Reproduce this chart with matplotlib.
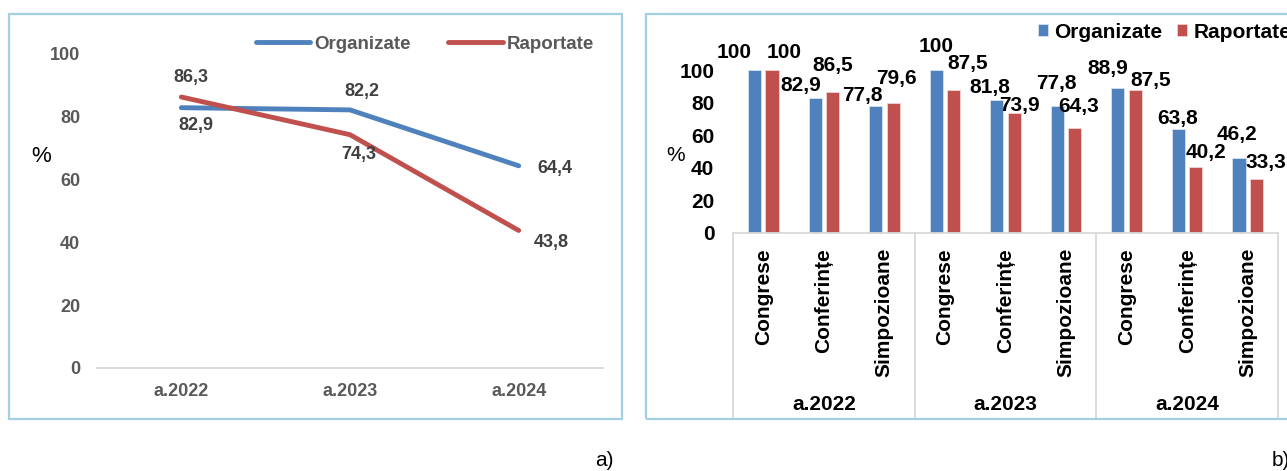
import numpy as np
import matplotlib
matplotlib.use("Agg")
import matplotlib.pyplot as plt
import matplotlib.transforms as mtransforms
from matplotlib.patches import Rectangle

plt.rcParams['font.family'] = ['Liberation Sans', 'DejaVu Sans']

# data
years = ['a.2022', 'a.2023', 'a.2024']
organizate = [82.9, 82.2, 64.4]
raportate = [86.3, 74.3, 43.8]

event_types = ['Congrese', 'Conferințe', 'Simpozioane']
org_bars = [100, 82.9, 77.8, 100, 81.8, 77.8, 88.9, 63.8, 46.2]
rap_bars = [100, 86.5, 79.6, 87.5, 73.9, 64.3, 87.5, 40.2, 33.3]

# label offsets in pixels (dx, dy), only for placement
org_line_off = [(15, -18), (12, 18), (36, -3)]
rap_line_off = [(10, 20), (9, -20), (33, -12)]
org_bar_off = [(-20, 18), (-14, 12), (-13, 11), (0, 23), (-7, 12), (-1, 23), (-10, 20), (-1, 11), (-2, 23)]
rap_bar_off = [(12, 18), (0, 27), (3, 25), (14, 27), (5, 7), (4, 22), (15, 10), (10, 15), (9, 16)]

BLUE = '#4F81BD'
RED = '#C0504D'
BORDER = '#A3D0E1'
GRID = '#D9D9D9'

W, H = 1287, 471
fig = plt.figure(figsize=(W / 100, H / 100), dpi=100)


def fx(px):
    return px / W


def fy(py):
    return 1 - py / H


def fmt(v):
    return f"{v:g}".replace('.', ',')


# panel borders
fig.patches.append(Rectangle((fx(9), fy(419)), fx(622) - fx(9), (419 - 14) / H,
                             transform=fig.transFigure, fill=False, ec=BORDER, lw=1.6))
fig.patches.append(Rectangle((fx(646), fy(419)), fx(1300) - fx(646), (419 - 14) / H,
                             transform=fig.transFigure, fill=False, ec=BORDER, lw=1.6))

# ---------- a) line chart ----------
ax1 = fig.add_axes([fx(97), fy(368), (603 - 97) / W, (368 - 54) / H])
x = np.arange(len(years))
ax1.plot(x, organizate, color=BLUE, lw=3.5, solid_capstyle='round', label='Organizate')
ax1.plot(x, raportate, color=RED, lw=3.5, solid_capstyle='round', label='Raportate')
ax1.set_xlim(-0.5, 2.5)
ax1.set_ylim(0, 100)
ax1.set_yticks(range(0, 101, 20))
ax1.set_xticks(x)
ax1.set_xticklabels(years)
for s in ['top', 'right', 'left']:
    ax1.spines[s].set_visible(False)
ax1.spines['bottom'].set_color(GRID)
ax1.spines['bottom'].set_linewidth(1.3)
ax1.tick_params(axis='y', length=0, pad=12, labelsize=13, labelcolor='#595959')
ax1.tick_params(axis='x', length=0, pad=11, labelsize=13, labelcolor='#595959')
for lab in ax1.get_xticklabels() + ax1.get_yticklabels():
    lab.set_fontweight('bold')

for i, v in enumerate(organizate):
    ax1.annotate(fmt(v), (i, v), xytext=org_line_off[i], textcoords='offset pixels',
                 ha='center', va='center', fontsize=13, fontweight='bold', color='#404040')
for i, v in enumerate(raportate):
    ax1.annotate(fmt(v), (i, v), xytext=rap_line_off[i], textcoords='offset pixels',
                 ha='center', va='center', fontsize=13, fontweight='bold', color='#404040')

fig.text(fx(41), fy(157), '%', ha='center', va='center', fontsize=16)

leg1 = ax1.legend(loc='center left', bbox_to_anchor=(fx(256), fy(44)),
                  bbox_transform=fig.transFigure, ncol=2, frameon=False,
                  borderpad=0, borderaxespad=0, handlelength=2.9, handletextpad=0.2,
                  columnspacing=2.0, prop={'size': 13.5, 'weight': 'bold'})
for t in leg1.get_texts():
    t.set_color('#595959')

# ---------- b) bar chart ----------
ax2 = fig.add_axes([fx(733), fy(233), (1278 - 733) / W, 163 / H])
n = len(org_bars)
xb = np.arange(n)
bw = 0.215
off = 0.144
ax2.bar(xb - off, org_bars, bw, color=BLUE, edgecolor='#D6E2F0', linewidth=0.6, label='Organizate')
ax2.bar(xb + off, rap_bars, bw, color=RED, edgecolor='#F0D4D3', linewidth=0.6, label='Raportate')
ax2.set_xlim(-0.5, n - 0.5)
ax2.set_ylim(0, 100)
ax2.set_yticks(range(0, 101, 20))
ax2.set_xticks([])
for s in ['top', 'right', 'left']:
    ax2.spines[s].set_visible(False)
ax2.spines['bottom'].set_color(GRID)
ax2.spines['bottom'].set_linewidth(1.3)
ax2.tick_params(axis='y', length=0, pad=13.5, labelsize=15)
for lab in ax2.get_yticklabels():
    lab.set_fontweight('bold')

for i, v in enumerate(org_bars):
    ax2.annotate(fmt(v), (i - off, v), xytext=org_bar_off[i], textcoords='offset pixels',
                 ha='center', va='center', fontsize=15, fontweight='bold')
for i, v in enumerate(rap_bars):
    ax2.annotate(fmt(v), (i + off, v), xytext=rap_bar_off[i], textcoords='offset pixels',
                 ha='center', va='center', fontsize=15, fontweight='bold')

trans = mtransforms.blended_transform_factory(ax2.transData, ax2.transAxes)
y_bottom = -(419 - 233) / 163
for k in range(len(years) + 1):
    xs = -0.5 + 3 * k
    ax2.plot([xs, xs], [0, y_bottom], color=GRID, lw=1.3, transform=trans, clip_on=False)
for i in range(n):
    ax2.text(i, -(248 - 233) / 163, event_types[i % 3], rotation=90, ha='center', va='top',
             fontsize=15, fontweight='bold', transform=trans)
for g, yr in enumerate(years):
    ax2.text(3 * g + 1, -(405 - 233) / 163, yr, ha='center', va='center',
             fontsize=15, fontweight='bold', transform=trans)

fig.text(fx(676), fy(156), '%', ha='center', va='center', fontsize=15)

ax2.legend(loc='center left', bbox_to_anchor=(fx(1038), fy(32)),
           bbox_transform=fig.transFigure, ncol=2, frameon=False,
           borderpad=0, borderaxespad=0, handlelength=0.48, handleheight=0.48,
           handletextpad=0.29, columnspacing=0.72, prop={'size': 15, 'weight': 'bold'})

fig.text(fx(595), fy(460), 'a)', ha='left', va='center', fontsize=15)
fig.text(fx(1272), fy(460), 'b)', ha='left', va='center', fontsize=15)

fig.savefig('out.png', dpi=100)
